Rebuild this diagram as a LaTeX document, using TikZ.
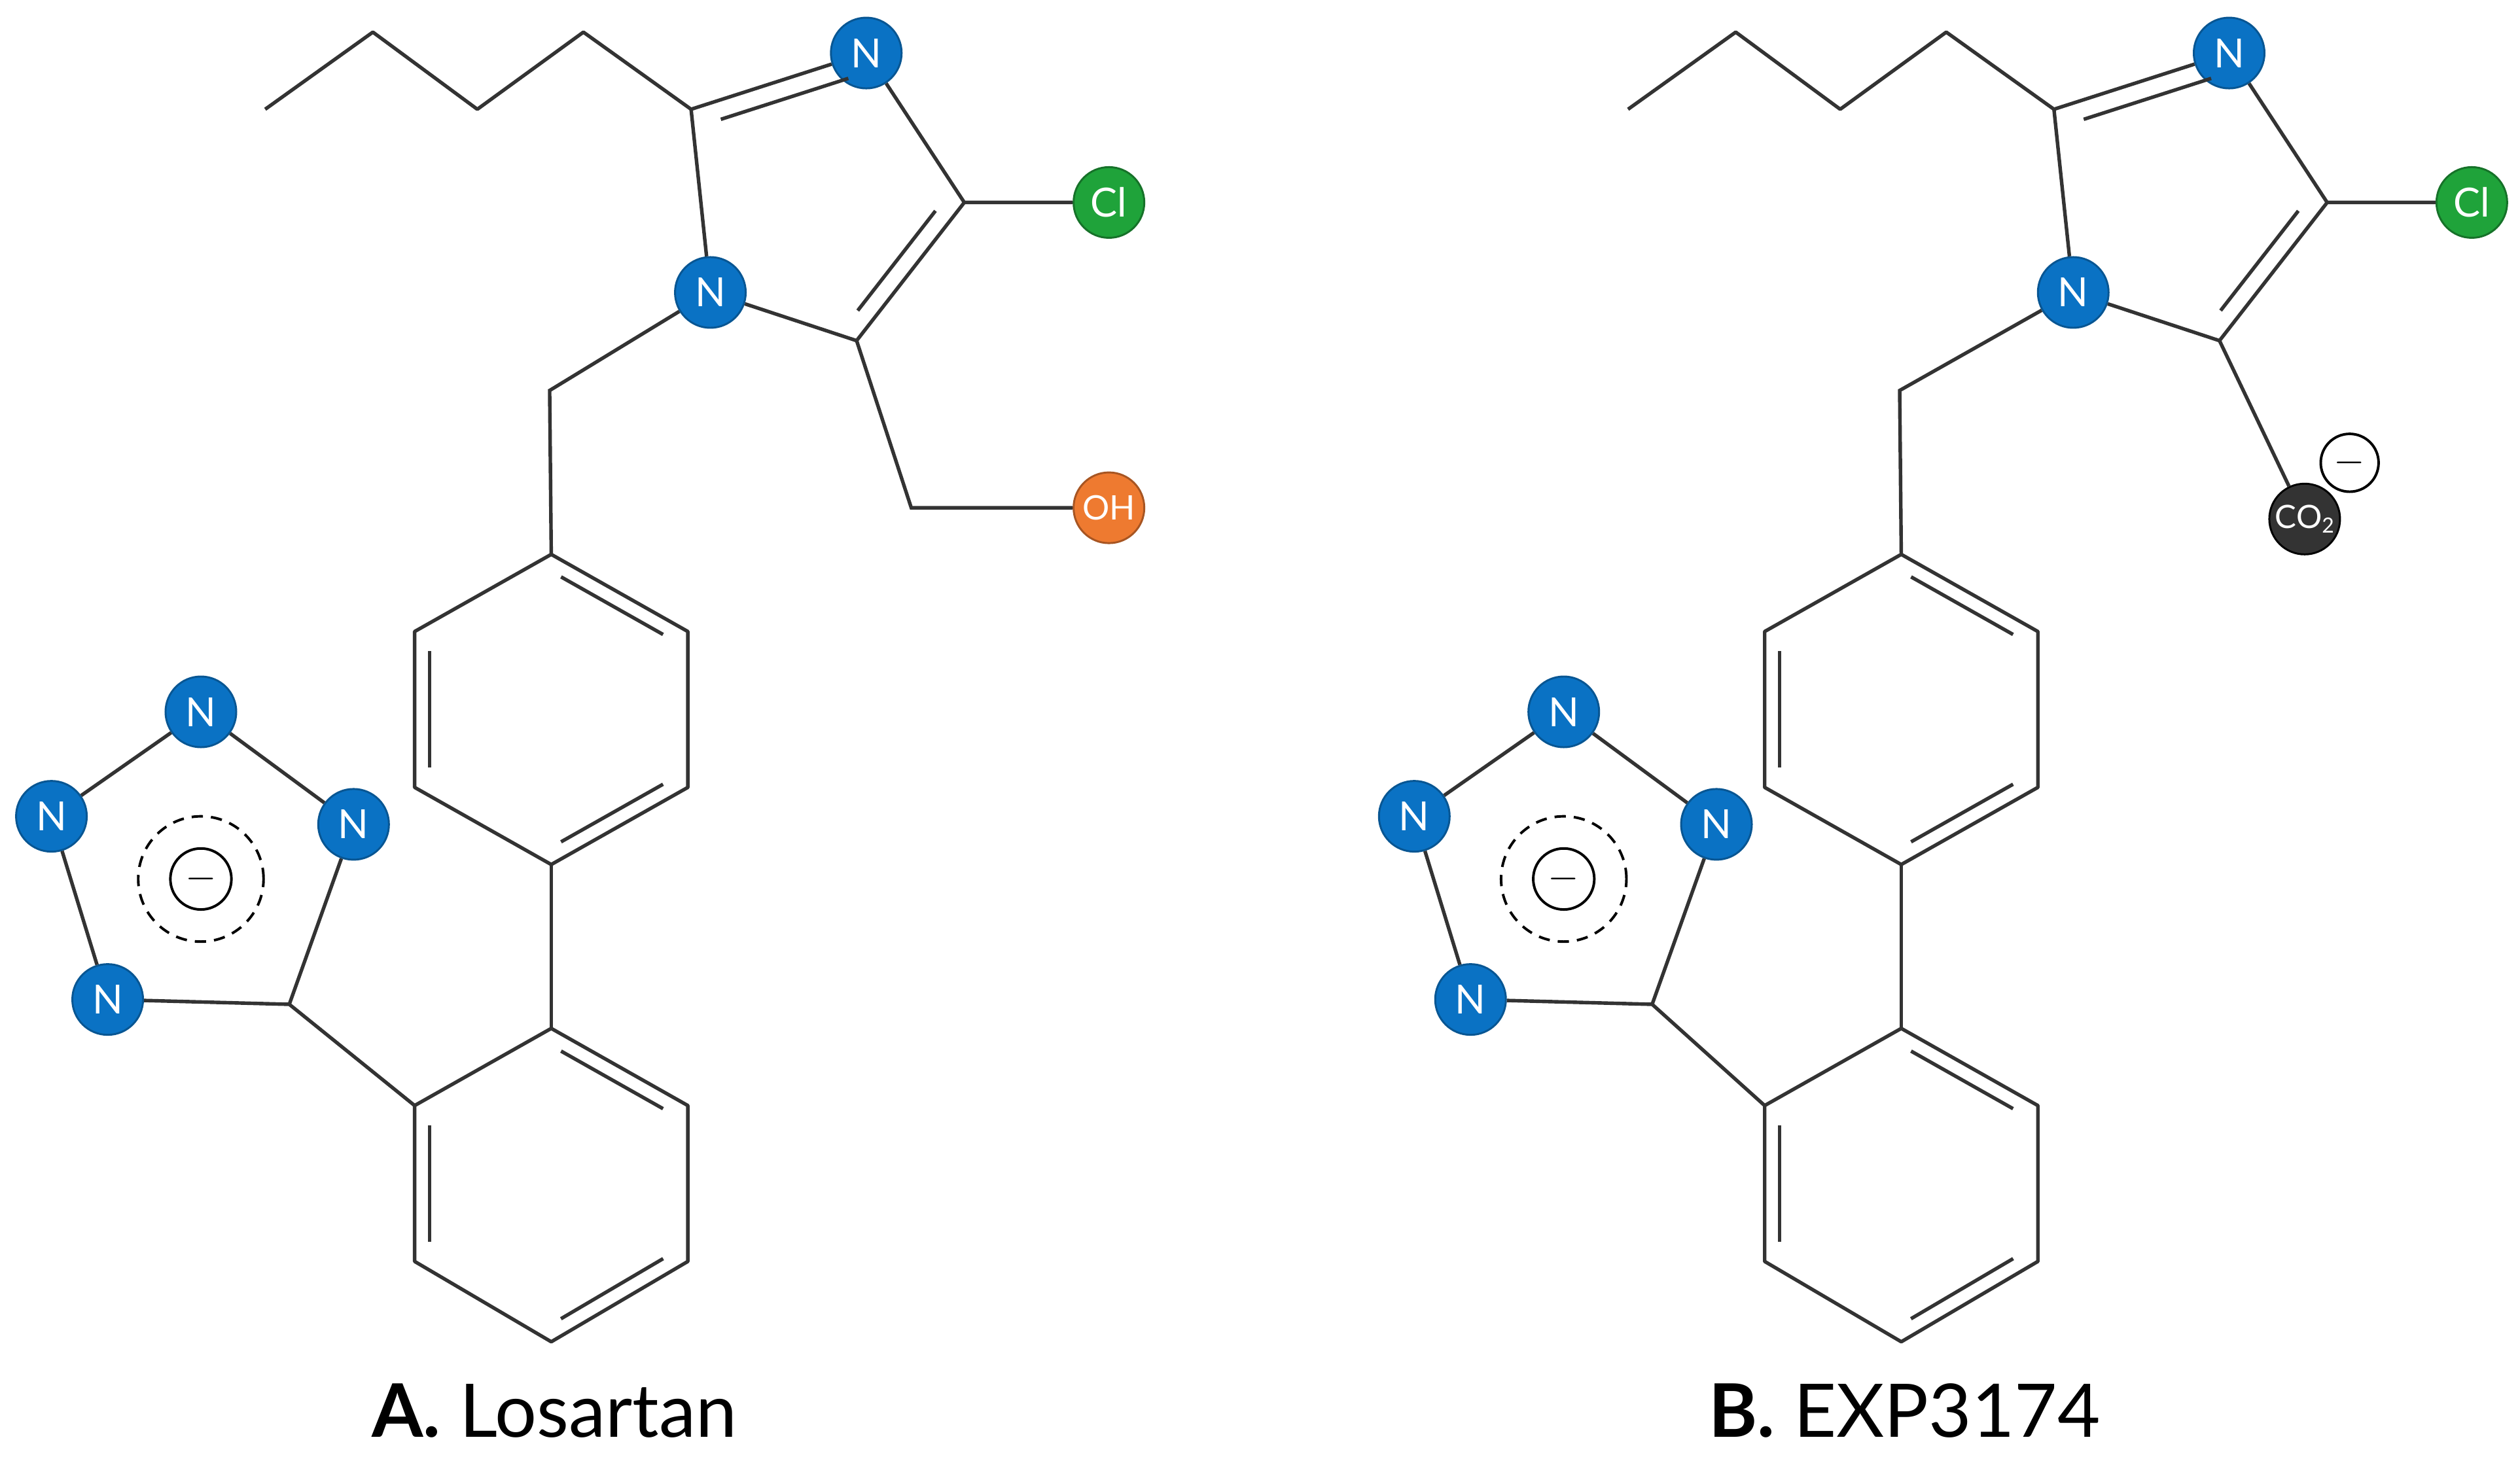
\documentclass[tikz,border=0pt]{standalone}
\usepackage{fontspec}
\setmainfont{Lato}
\usetikzlibrary{calc}
\definecolor{nblue}{HTML}{0A72C4}
\definecolor{clgreen}{HTML}{1FA33A}
\definecolor{ohorange}{HTML}{EE7A30}
\definecolor{bondc}{HTML}{333333}
\tikzset{
  bond/.style={draw=bondc,line width=2.2pt},
  atom/.style={circle,minimum size=44pt,inner sep=0pt,line width=1.2pt,text=white,font=\fontsize{25}{25}\selectfont},
  natom/.style={atom,fill=nblue,draw=nblue!75!black},
  clatom/.style={atom,fill=clgreen,draw=clgreen!70!black},
  ohatom/.style={atom,fill=ohorange,draw=ohorange!70!black,font=\fontsize{21}{21}\selectfont},
  coatom/.style={atom,fill=bondc,draw=black,font=\fontsize{20}{20}\selectfont},
  charge/.style={circle,draw=black,line width=1.6pt,minimum size=36pt,inner sep=0pt,font=\fontsize{28}{28}\selectfont},
  lbl/.style={font=\fontsize{46}{46}\selectfont,text=black}
}
\newcommand\inner[4][0.11]{\draw[bond,shorten <=7pt,shorten >=7pt] ($(#2)!#1!(#4)$) -- ($(#3)!#1!(#4)$);}
\newcommand\mymol[1]{%
  \coordinate (b1) at (165,68); \coordinate (b2) at (232,20); \coordinate (b3) at (297,68); \coordinate (b4) at (363,20);
  \coordinate (c2) at (430,68);
  \node[natom] (n3) at (539,33) {N};
  \coordinate (c4) at (600,126);
  \coordinate (c5) at (533,212);
  \node[natom] (n1) at (442,182) {N};
  \coordinate (ic) at (509,124);
  \node[clatom] (cl) at (690,126) {Cl};
  \draw[bond,line join=bevel] (b1)--(b2)--(b3)--(b4)--(c2);
  \draw[bond] (c2)--(n3) (n3)--(c4) (c4)--(c5) (c5)--(n1) (n1)--(c2) (c4)--(cl);
  \inner[0.15]{c2}{n3}{ic} \inner[0.15]{c4}{c5}{ic}
  \coordinate (m) at (342+#1,243);
  % benzene 1
  \coordinate (p1) at (343+#1,345); \coordinate (p2) at (428+#1,393); \coordinate (p3) at (428+#1,490);
  \coordinate (p4) at (343+#1,538); \coordinate (p5) at (258+#1,490); \coordinate (p6) at (258+#1,393);
  \coordinate (pc) at (343+#1,441);
  \draw[bond] (n1)--(m)--(p1);
  \draw[bond,line join=round] (p1)--(p2)--(p3)--(p4)--(p5)--(p6)--cycle;
  \inner{p1}{p2}{pc} \inner{p3}{p4}{pc} \inner{p5}{p6}{pc}
  % benzene 2
  \coordinate (q1) at (343+#1,640); \coordinate (q2) at (428+#1,688); \coordinate (q3) at (428+#1,785);
  \coordinate (q4) at (343+#1,835); \coordinate (q5) at (258+#1,785); \coordinate (q6) at (258+#1,688);
  \coordinate (qc) at (343+#1,737);
  \draw[bond] (p4)--(q1);
  \draw[bond,line join=round] (q1)--(q2)--(q3)--(q4)--(q5)--(q6)--cycle;
  \inner{q1}{q2}{qc} \inner{q3}{q4}{qc} \inner{q5}{q6}{qc}
  % tetrazole
  \coordinate (t5) at (180,625);
  \node[natom] (t1) at (220,513) {N};
  \node[natom] (t2) at (125,443) {N};
  \node[natom] (t3) at (32,508) {N};
  \node[natom] (t4) at (67,622) {N};
  \draw[bond] (t5)--(t1) (t1)--(t2) (t2)--(t3) (t3)--(t4) (t4)--(t5) (t5)--(q6);
  \node[circle,draw=black,dash pattern=on 7pt off 5pt,line width=1.6pt,minimum size=78pt] (ring) at (125,547) {};
  \node[charge,minimum size=38pt] (tq) at (125,547) {$-$};
}
\begin{document}
\begin{tikzpicture}[x=1pt,y=-1pt]
\useasboundingbox (0,0) rectangle (1568,909);
\begin{scope}[name prefix=A-]
  \mymol{0}
  \coordinate (ch) at (567,316);
  \node[ohatom] (oh) at (690,316) {OH};
  \draw[bond] (c5)--(ch)--(oh);
  \node[lbl] (lab) at (345,878) {\textbf{A.} Losartan};
\end{scope}
\begin{scope}[xshift=848pt,name prefix=B-]
  \mymol{-8}
  \node[coatom] (co) at (586,323) {CO\raisebox{-0.3ex}{\fontsize{13}{13}\selectfont 2}};
  \node[charge] (cq) at (614,288) {$-$};
  \draw[bond] (c5)--(co);
  \node[lbl] (lab) at (337,878) {\textbf{B.} EXP3174};
\end{scope}
\end{tikzpicture}
\end{document}
